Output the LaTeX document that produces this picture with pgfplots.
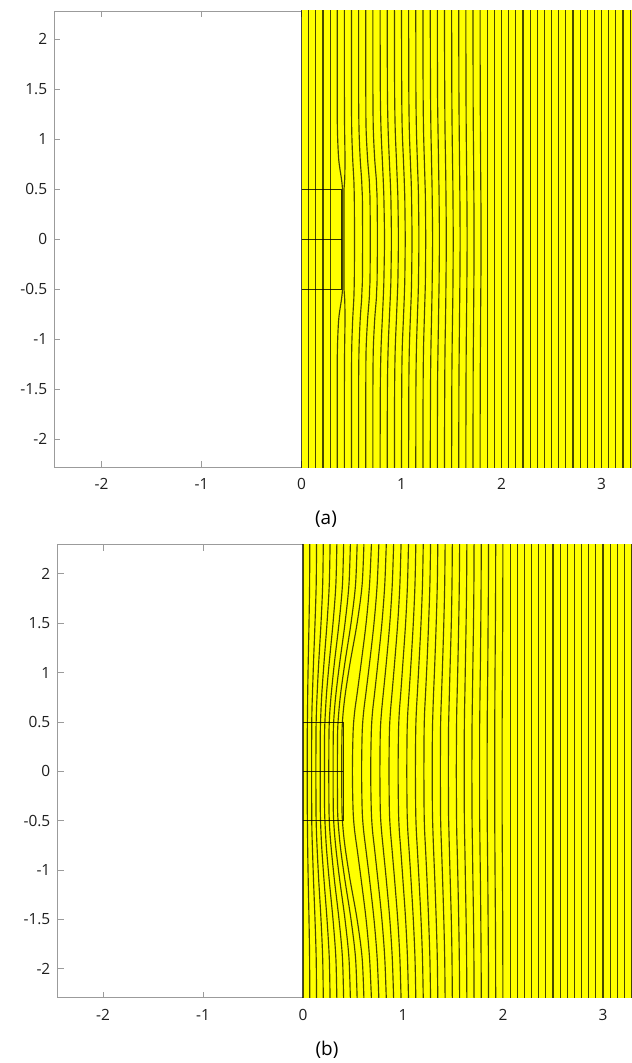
\documentclass[border=0pt]{standalone}
\usepackage{fontspec}
\setmainfont{Open Sans}
\usepackage{pgfplots}
\usepackage{pgfplotstable}
\pgfplotsset{compat=1.18}
\definecolor{axgray}{RGB}{155,155,155}
\definecolor{fieldy}{RGB}{255,255,0}

% panel (a): curved field lines (x positions at each y)
\pgfplotstableread{
y k5 k6 k7 k8 k9 k10 k11 k12 k13 k14 k15 k16 k17 k18 k19 k20 k21 k22 k23 k24 k25
2.4 0.357 0.429 0.500 0.571 0.643 0.714 0.786 0.857 0.929 1.000 1.071 1.143 1.214 1.287 1.358 1.429 1.501 1.572 1.643 1.715 1.786
1.5 0.357 0.429 0.500 0.571 0.643 0.714 0.788 0.859 0.931 1.002 1.073 1.144 1.216 1.290 1.360 1.432 1.503 1.574 1.645 1.716 1.787
1.1 0.359 0.431 0.502 0.575 0.646 0.718 0.795 0.866 0.937 1.007 1.078 1.149 1.220 1.294 1.365 1.435 1.506 1.577 1.647 1.718 1.789
0.8 0.372 0.435 0.512 0.587 0.661 0.732 0.808 0.878 0.949 1.019 1.088 1.158 1.228 1.300 1.370 1.440 1.510 1.580 1.650 1.721 1.791
0.6 0.400 0.432 0.523 0.601 0.677 0.748 0.817 0.887 0.957 1.027 1.096 1.165 1.234 1.304 1.373 1.443 1.513 1.582 1.652 1.722 1.792
0.5 0.410 0.425 0.526 0.605 0.681 0.752 0.821 0.891 0.961 1.030 1.099 1.168 1.237 1.306 1.375 1.444 1.514 1.583 1.653 1.723 1.793
0.4 0.410 0.425 0.528 0.609 0.685 0.756 0.824 0.894 0.964 1.033 1.101 1.170 1.239 1.307 1.376 1.445 1.515 1.584 1.654 1.724 1.794
0 0.410 0.425 0.530 0.611 0.688 0.759 0.830 0.899 0.969 1.037 1.105 1.174 1.242 1.311 1.379 1.448 1.517 1.586 1.656 1.725 1.795
-0.4 0.410 0.425 0.528 0.609 0.685 0.756 0.824 0.894 0.964 1.033 1.101 1.170 1.239 1.307 1.376 1.445 1.515 1.584 1.654 1.724 1.794
-0.5 0.410 0.425 0.526 0.605 0.681 0.752 0.821 0.891 0.961 1.030 1.099 1.168 1.237 1.306 1.375 1.444 1.514 1.583 1.653 1.723 1.793
-0.6 0.400 0.432 0.523 0.601 0.677 0.748 0.817 0.887 0.957 1.027 1.096 1.165 1.234 1.304 1.373 1.443 1.513 1.582 1.652 1.722 1.792
-0.8 0.372 0.435 0.512 0.587 0.661 0.732 0.808 0.878 0.949 1.019 1.088 1.158 1.228 1.300 1.370 1.440 1.510 1.580 1.650 1.721 1.791
-1.1 0.359 0.431 0.502 0.575 0.646 0.718 0.795 0.866 0.937 1.007 1.078 1.149 1.220 1.294 1.365 1.435 1.506 1.577 1.647 1.718 1.789
-1.5 0.357 0.429 0.500 0.571 0.643 0.714 0.788 0.859 0.931 1.002 1.073 1.144 1.216 1.290 1.360 1.432 1.503 1.574 1.645 1.716 1.787
-2.4 0.357 0.429 0.500 0.571 0.643 0.714 0.786 0.857 0.929 1.000 1.071 1.143 1.214 1.287 1.358 1.429 1.501 1.572 1.643 1.715 1.786
}\tabA

% panel (b): curved field lines
\pgfplotstableread{
y k1 k2 k3 k4 k5 k6 k7 k8 k9 k10 k11 k12 k13 k14 k15 k16 k17 k18 k19 k20 k21 k22 k23 k24 k25 k26 k27 k28
2.4 0.068 0.136 0.204 0.272 0.340 0.408 0.476 0.544 0.612 0.688 0.762 0.836 0.909 0.983 1.057 1.130 1.204 1.277 1.349 1.422 1.494 1.567 1.639 1.711 1.783 1.855 1.927 1.999
1.9 0.066 0.132 0.197 0.263 0.329 0.395 0.460 0.526 0.592 0.666 0.742 0.818 0.893 0.969 1.045 1.120 1.195 1.269 1.343 1.417 1.490 1.563 1.636 1.709 1.781 1.854 1.926 1.998
1.5 0.060 0.120 0.180 0.240 0.300 0.360 0.420 0.480 0.541 0.631 0.710 0.789 0.868 0.947 1.026 1.103 1.180 1.256 1.332 1.408 1.483 1.557 1.631 1.705 1.778 1.851 1.924 1.997
1.1 0.052 0.105 0.157 0.210 0.262 0.314 0.367 0.419 0.471 0.582 0.666 0.749 0.833 0.916 0.999 1.080 1.160 1.240 1.318 1.396 1.472 1.549 1.624 1.699 1.774 1.848 1.921 1.995
0.8 0.047 0.095 0.142 0.189 0.236 0.284 0.331 0.378 0.425 0.543 0.630 0.717 0.804 0.891 0.978 1.061 1.144 1.226 1.306 1.386 1.464 1.542 1.619 1.695 1.770 1.845 1.919 1.993
0.6 0.045 0.089 0.134 0.179 0.224 0.268 0.313 0.358 0.402 0.516 0.606 0.695 0.785 0.874 0.963 1.048 1.133 1.216 1.299 1.379 1.459 1.537 1.615 1.692 1.768 1.843 1.918 1.992
0.4 0.043 0.087 0.130 0.173 0.216 0.260 0.303 0.346 0.390 0.501 0.592 0.683 0.773 0.864 0.955 1.041 1.127 1.211 1.294 1.375 1.455 1.535 1.613 1.690 1.766 1.842 1.917 1.991
0 0.043 0.086 0.129 0.172 0.215 0.258 0.301 0.344 0.387 0.494 0.586 0.677 0.769 0.860 0.951 1.038 1.124 1.209 1.292 1.374 1.454 1.533 1.612 1.689 1.766 1.841 1.917 1.991
-0.4 0.043 0.087 0.130 0.173 0.216 0.260 0.303 0.346 0.390 0.501 0.592 0.683 0.773 0.864 0.955 1.041 1.127 1.211 1.294 1.375 1.455 1.535 1.613 1.690 1.766 1.842 1.917 1.991
-0.6 0.045 0.089 0.134 0.179 0.224 0.268 0.313 0.358 0.402 0.516 0.606 0.695 0.785 0.874 0.963 1.048 1.133 1.216 1.299 1.379 1.459 1.537 1.615 1.692 1.768 1.843 1.918 1.992
-0.8 0.047 0.095 0.142 0.189 0.236 0.284 0.331 0.378 0.425 0.543 0.630 0.717 0.804 0.891 0.978 1.061 1.144 1.226 1.306 1.386 1.464 1.542 1.619 1.695 1.770 1.845 1.919 1.993
-1.1 0.052 0.105 0.157 0.210 0.262 0.314 0.367 0.419 0.471 0.582 0.666 0.749 0.833 0.916 0.999 1.080 1.160 1.240 1.318 1.396 1.472 1.549 1.624 1.699 1.774 1.848 1.921 1.995
-1.5 0.060 0.120 0.180 0.240 0.300 0.360 0.420 0.480 0.541 0.631 0.710 0.789 0.868 0.947 1.026 1.103 1.180 1.256 1.332 1.408 1.483 1.557 1.631 1.705 1.778 1.851 1.924 1.997
-1.9 0.066 0.132 0.197 0.263 0.329 0.395 0.460 0.526 0.592 0.666 0.742 0.818 0.893 0.969 1.045 1.120 1.195 1.269 1.343 1.417 1.490 1.563 1.636 1.709 1.781 1.854 1.926 1.998
-2.4 0.068 0.136 0.204 0.272 0.340 0.408 0.476 0.544 0.612 0.688 0.762 0.836 0.909 0.983 1.057 1.130 1.204 1.277 1.349 1.422 1.494 1.567 1.639 1.711 1.783 1.855 1.927 1.999
}\tabB

\pgfplotsset{
  panel/.style={
    scale only axis, anchor=south west,
    axis line style={axgray, line width=0.8bp},
    tick style={axgray, line width=0.8bp},
    major tick length=6bp, tick align=inside,
    xtick={-2,-1,0,1,2,3}, xticklabels={-2,-1,0,1,2,3},
    ytick={-2,-1.5,-1,-0.5,0,0.5,1,1.5,2},
    yticklabels={-2,-1.5,-1,-0.5,0,0.5,1,1.5,2},
    tick label style={font=\fontsize{15.5}{15.5}\selectfont, text=black!88, inner sep=0pt},
    xticklabel shift=11bp, yticklabel shift=7bp,
  },
  fl/.style={black, opacity=0.72, line width=1.15bp, smooth, no markers},
  sl/.style={black, opacity=0.72, line width=1.15bp, no markers},
  rl/.style={black, opacity=0.8, line width=0.9bp, no markers},
}

\begin{document}
\begin{tikzpicture}[x=1bp,y=1bp]
\useasboundingbox (0,0) rectangle (632,1063);
% ---------------- (a)
\begin{axis}[panel, at={(54.3,595.7)}, width=579.7bp, height=456.3bp,
  xmin=-2.472, xmax=3.325, ymin=-2.28, ymax=2.283]
\addplot[draw=none, fill=fieldy] coordinates {(0,-2.5) (3.5,-2.5) (3.5,2.5) (0,2.5)} -- cycle;
\pgfplotsinvokeforeach{0,0.0714,0.1429,0.2143,0.2857,1.8571,1.9286,2.0,2.0714,2.1429,2.2143,2.2857,2.3571,2.4286,2.5,2.5714,2.6429,2.7143,2.7857,2.8571,2.9286,3.0,3.0714,3.1429,3.2143,3.2857}{
  \addplot[sl] coordinates {(#1,-2.5) (#1,2.5)};
}
\pgfplotsinvokeforeach{k5,k6,k7,k8,k9,k10,k11,k12,k13,k14,k15,k16,k17,k18,k19,k20,k21,k22,k23,k24,k25}{
  \addplot[fl] table[x=#1,y=y]{\tabA};
}
\addplot[rl] coordinates {(0,0.5) (0.4,0.5) (0.4,-0.5) (0,-0.5)};
\addplot[rl] coordinates {(0,0) (0.4,0)};
\end{axis}
\node[font=\fontsize{19}{19}\selectfont] at (326,544) {(a)};
% ---------------- (b)
\begin{axis}[panel, at={(57.5,66)}, width=576.5bp, height=453bp,
  xmin=-2.455, xmax=3.31, ymin=-2.294, ymax=2.294]
\addplot[draw=none, fill=fieldy] coordinates {(0,-2.5) (3.5,-2.5) (3.5,2.5) (0,2.5)} -- cycle;
\pgfplotsinvokeforeach{0,2.0714,2.1429,2.2143,2.2857,2.3571,2.4286,2.5,2.5714,2.6429,2.7143,2.7857,2.8571,2.9286,3.0,3.0714,3.1429,3.2143,3.2857}{
  \addplot[sl] coordinates {(#1,-2.5) (#1,2.5)};
}
\pgfplotsinvokeforeach{k1,k2,k3,k4,k5,k6,k7,k8,k9,k10,k11,k12,k13,k14,k15,k16,k17,k18,k19,k20,k21,k22,k23,k24,k25,k26,k27,k28}{
  \addplot[fl] table[x=#1,y=y]{\tabB};
}
\addplot[rl] coordinates {(0,0.5) (0.4,0.5) (0.4,-0.5) (0,-0.5)};
\addplot[rl] coordinates {(0,0) (0.4,0)};
\end{axis}
\node[font=\fontsize{19}{19}\selectfont] at (327,13) {(b)};
\end{tikzpicture}
\end{document}
